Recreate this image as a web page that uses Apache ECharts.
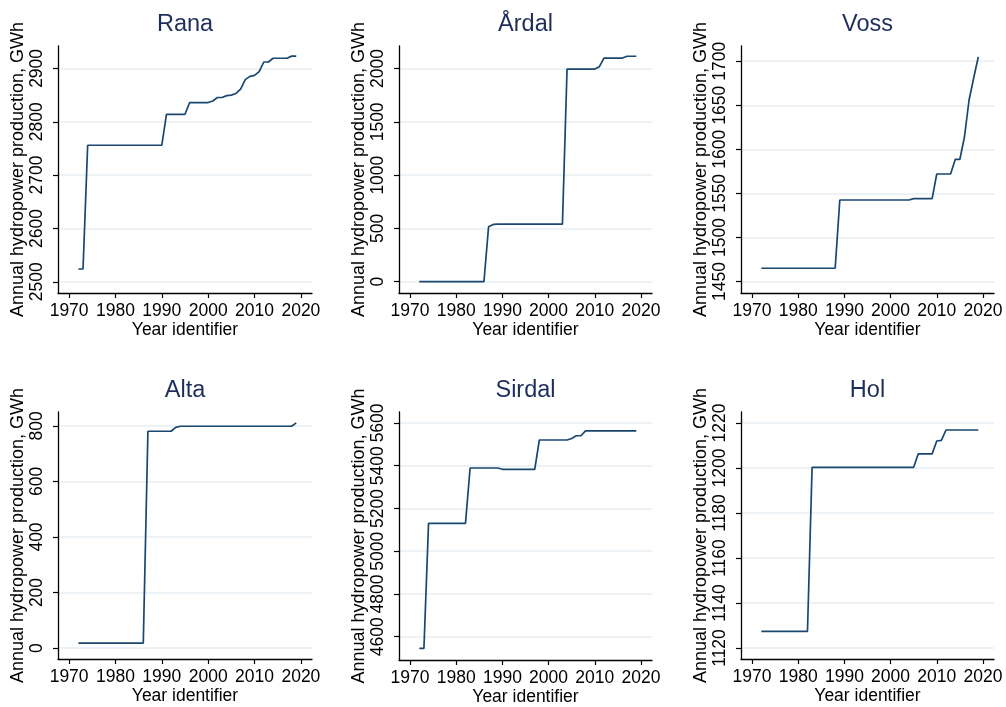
<!DOCTYPE html>
<html>
<head>
<meta charset="utf-8">
<script src="https://cdn.jsdelivr.net/npm/echarts@6/dist/echarts.min.js"></script>
<style>
html,body{margin:0;padding:0;background:#fff;}
#main{width:1006px;height:707px;}
</style>
</head>
<body>
<div id="main"></div>
<script>
const years = [1972,1973,1974,1975,1976,1977,1978,1979,1980,1981,1982,1983,1984,1985,1986,1987,1988,1989,1990,1991,1992,1993,1994,1995,1996,1997,1998,1999,2000,2001,2002,2003,2004,2005,2006,2007,2008,2009,2010,2011,2012,2013,2014,2015,2016,2017,2018,2019];

const rana = [2524,2524,
  2756,2756,2756,2756,2756,2756,2756,2756,2756,2756,2756,2756,2756,2756,2756,2756,2756,
  2814,2814,2814,2814,2814,
  2836,2836,2836,2836,2836,
  2839,2845.5,2845.5,2849,2850,2853,2861,2879,2885,2887,2894,2912,2912,2919,2919,2919,2919,2923,2923];

const ardal = [0,0,0,0,0,0,0,0,0,0,0,0,0,0,0,
  515,
  538,540,540,540,540,540,540,540,540,540,540,540,540,540,540,540,
  1995,1995,1995,1995,1995,1995,1995,
  2018,
  2099,2099,2099,2099,2099,
  2116,2116,2116];

const voss = [1465,1465,1465,1465,1465,1465,1465,1465,1465,1465,1465,1465,1465,1465,1465,1465,1465,
  1542.5,1542.5,1542.5,1542.5,1542.5,1542.5,1542.5,1542.5,1542.5,1542.5,1542.5,1542.5,1542.5,1542.5,1542.5,1542.5,
  1544,1544,1544,1544,1544,
  1572,1572,1572,1572,
  1588.5,1588.5,
  1614,1656,1681,1705];

const alta = [18,18,18,18,18,18,18,18,18,18,18,18,18,18,18,
  781,781,781,781,781,781,
  795,
  799,799,799,799,799,799,799,799,799,799,799,799,799,799,799,799,799,799,799,799,799,799,799,799,799,
  811];

const sirdal = [4545,4545,
  5130,5130,5130,5130,5130,5130,5130,5130,5130,
  5389,5389,5389,5389,5389,5389,5389,
  5383,5383,5383,5383,5383,5383,5383,5383,
  5520,5520,5520,5520,5520,5520,5520,
  5527,
  5540,5540,
  5563,5563,5563,5563,5563,5563,5563,5563,5563,5563,5563,5563];

const hol = [1127.4,1127.4,1127.4,1127.4,1127.4,1127.4,1127.4,1127.4,1127.4,1127.4,1127.4,
  1200.3,1200.3,1200.3,1200.3,1200.3,1200.3,1200.3,1200.3,1200.3,1200.3,1200.3,1200.3,1200.3,1200.3,1200.3,1200.3,1200.3,1200.3,1200.3,1200.3,1200.3,1200.3,1200.3,
  1206.3,1206.3,1206.3,1206.3,
  1212.0,1212.3,
  1216.9,1216.9,1216.9,1216.9,1216.9,1216.9,1216.9,1216.9];

const xTicks = [1970,1980,1990,2000,2010,2020];

const panels = [
  {name:'Rana',   values:rana,   yMin:2479,  yMax:2942,   yTicks:[2500,2600,2700,2800,2900]},
  {name:'Årdal',  values:ardal,  yMin:-106,  yMax:2212,   yTicks:[0,500,1000,1500,2000]},
  {name:'Voss',   values:voss,   yMin:1436.9,yMax:1717.3, yTicks:[1450,1500,1550,1600,1650,1700]},
  {name:'Alta',   values:alta,   yMin:-39.5, yMax:850.3,  yTicks:[0,200,400,600,800]},
  {name:'Sirdal', values:sirdal, yMin:4491,  yMax:5651,   yTicks:[4600,4800,5000,5200,5400,5600]},
  {name:'Hol',    values:hol,    yMin:1115.1,yMax:1224.9, yTicks:[1120,1140,1160,1180,1200,1220]}
];

const gridPos = [
  {left:58, top:46, width:254, height:247},
  {left:399, top:46, width:253, height:247},
  {left:741, top:46, width:253, height:247},
  {left:58, top:412, width:254, height:247},
  {left:399, top:412, width:253, height:248},
  {left:741, top:412, width:253, height:247}
];

const FONT = "'Liberation Sans', Arial, sans-serif";
const grids = [], xAxes = [], yAxes = [], series = [], titles = [];
const plain = v => String(v);

panels.forEach((p, i) => {
  const g = gridPos[i];
  grids.push({left:g.left, top:g.top, width:g.width, height:g.height, containLabel:false});
  titles.push({
    text: p.name,
    left: g.left + g.width/2,
    top: g.top - 33,
    padding: 0,
    textAlign: 'center',
    textStyle: {fontFamily: FONT, fontSize: 23.5, fontWeight: 'normal', color: '#1e2e5c'}
  });
  xAxes.push({
    type:'value', gridIndex:i, min:1967.6, max:2022.4,
    name:'Year identifier', nameLocation:'middle', nameGap:27,
    nameTextStyle:{fontFamily:FONT, fontSize:17.5, color:'#000'},
    axisLine:{show:true, onZero:false, lineStyle:{color:'#000', width:1.3}},
    axisTick:{show:true, length:5, lineStyle:{color:'#000', width:1.2}, customValues:xTicks},
    axisLabel:{fontFamily:FONT, fontSize:17.5, color:'#000', margin:9, customValues:xTicks, formatter:plain},
    splitLine:{show:false}
  });
  yAxes.push({
    type:'value', gridIndex:i, min:p.yMin, max:p.yMax,
    name:'Annual hydropower production, GWh', nameLocation:'middle', nameGap:30,
    nameTextStyle:{fontFamily:FONT, fontSize:18, color:'#000'},
    axisLine:{show:true, onZero:false, lineStyle:{color:'#000', width:1.3}},
    axisTick:{show:true, length:5, lineStyle:{color:'#000', width:1.2}, customValues:p.yTicks},
    axisLabel:{fontFamily:FONT, fontSize:17.5, color:'#000', margin:12, rotate:90, customValues:p.yTicks, formatter:plain},
    splitLine:{show:true, lineStyle:{color:'#e6eef2', width:1.6}}
  });
  series.push({
    type:'line', xAxisIndex:i, yAxisIndex:i,
    data: years.map((y, k) => [y, p.values[k]]),
    showSymbol:false, symbol:'none',
    lineStyle:{color:'#1a476f', width:1.7},
    animation:false
  });
});

const chart = echarts.init(document.getElementById('main'), null, {renderer:'canvas'});
chart.setOption({
  backgroundColor:'#fff',
  animation:false,
  title: titles,
  grid: grids,
  xAxis: xAxes,
  yAxis: yAxes,
  series: series
});
</script>
</body>
</html>
